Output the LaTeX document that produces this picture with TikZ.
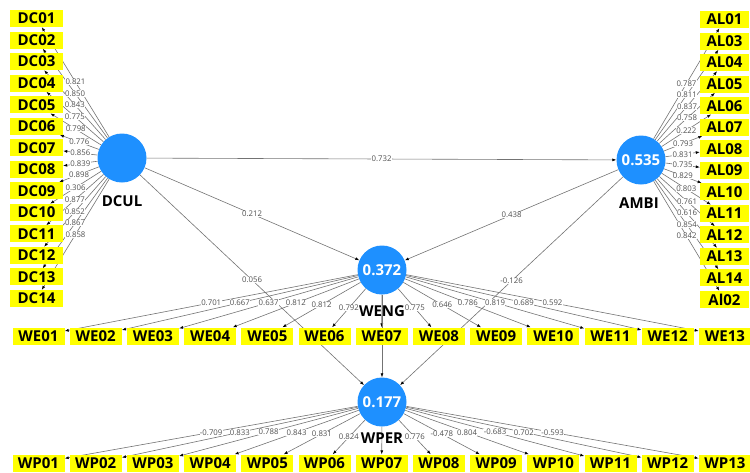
\documentclass[tikz,border=0pt]{standalone}
\usepackage{fontspec}
\setmainfont{Open Sans}
\usetikzlibrary{arrows.meta}
\definecolor{lvblue}{RGB}{30,144,255}
\definecolor{indyellow}{RGB}{255,255,0}
\definecolor{edgegray}{RGB}{115,115,115}
\definecolor{tagtext}{RGB}{80,80,80}
\pgfdeclarelayer{edges}
\pgfdeclarelayer{tags}
\pgfsetlayers{edges,tags,main}
\tikzset{
  latent/.style={circle, fill=lvblue, minimum size=49pt, inner sep=0pt,
    text=white, font=\fontsize{15}{15}\selectfont\bfseries},
  indicator/.style={rectangle, fill=indyellow, minimum height=17pt, inner sep=0pt,
    font=\fontsize{15}{15}\selectfont\bfseries},
  lvname/.style={font=\fontsize{15}{15}\selectfont\bfseries, inner sep=0pt},
  conn/.style={draw=edgegray, line width=0.6pt,
    -{Latex[length=4pt,width=3pt,color=black]}},
  coef/.style={fill=white, inner sep=0.4pt, text=tagtext,
    font=\fontsize{7.8}{7.8}\selectfont}
}
% connector with its coefficient tag at the middle
\newcommand\pathlink[3]{%
  \begin{pgfonlayer}{edges}\draw[conn] (#1) -- (#2);\end{pgfonlayer}%
  \begin{pgfonlayer}{tags}\path (#1) -- (#2) node[midway,coef]{#3};\end{pgfonlayer}}
\newcommand\barelink[2]{%
  \begin{pgfonlayer}{edges}\draw[conn] (#1) -- (#2);\end{pgfonlayer}}
\begin{document}
\begin{tikzpicture}[x=1pt,y=-1pt]
\useasboundingbox (0,0) rectangle (750,472);

% latent variables
\node[latent] (DCUL) at (122,158) {};
\node[latent] (AMBI) at (641,160) {0.535};
\node[latent] (WENG) at (382,270) {0.372};
\node[latent] (WPER) at (382,402) {0.177};

% indicator blocks and outer loadings
\foreach \n/\v [count=\i from 0] in {01/0.821,02/0.850,03/0.843,04/0.775,05/0.798,
    06/0.776,07/0.856,08/0.839,09/0.898,10/0.306,11/0.877,12/0.852,13/0.867,14/0.858}{
  \node[indicator, minimum width=53pt] (DC\n) at (36.5,18.5+21.54*\i) {DC\n};
  \pathlink{DCUL}{DC\n}{\v}
}
\foreach \n/\v [count=\i from 0] in {AL01/0.787,AL03/0.811,AL04/0.837,AL05/0.758,
    AL06/0.222,AL07/0.793,AL08/0.831,AL09/0.735,AL10/0.829,AL11/0.803,AL12/0.761,
    AL13/0.616,AL14/0.854,Al02/0.842}{
  \node[indicator, minimum width=49pt] (\n) at (724.5,19.5+21.54*\i) {\n};
  \pathlink{AMBI}{\n}{\v}
}
\foreach \n [count=\i from 0] in {01,02,03,04,05,06,07,08,09,10,11,12,13}{
  \node[indicator, minimum width=52pt] (WE\n) at (38.5+57.2*\i,336) {WE\n};
  \node[indicator, minimum width=52pt] (WP\n) at (38.5+57.2*\i,463) {WP\n};
}
\foreach \n/\v in {01/0.701,02/0.667,03/0.637,04/0.812,05/0.812,06/0.792,
    08/0.775,09/0.646,10/0.786,11/0.819,12/0.689,13/0.592}{
  \pathlink{WENG}{WE\n}{\v}
}
\barelink{WENG}{WE07}
\foreach \n/\v in {01/-0.709,02/0.833,03/0.788,04/0.843,05/0.831,06/0.824,
    08/0.776,09/-0.478,10/0.804,11/-0.683,12/0.702,13/-0.593}{
  \pathlink{WPER}{WP\n}{\v}
}
\barelink{WPER}{WP07}

% structural paths
\pathlink{DCUL}{AMBI}{0.732}
\pathlink{DCUL}{WENG}{0.212}
\pathlink{DCUL}{WPER}{0.056}
\pathlink{AMBI}{WENG}{0.438}
\pathlink{AMBI}{WPER}{-0.126}
\barelink{WENG}{WPER}

% latent variable names
\node[lvname] (nDCUL) at (122,201) {DCUL};
\node[lvname] (nAMBI) at (639,203) {AMBI};
\node[lvname] (nWENG) at (382,311) {WENG};
\node[lvname] (nWPER) at (382,438) {WPER};
\end{tikzpicture}
\end{document}
